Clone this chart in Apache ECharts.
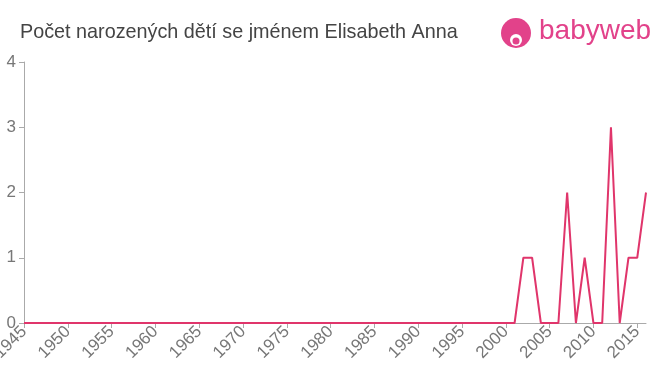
<!DOCTYPE html>
<html><head><meta charset="utf-8">
<script src="https://cdn.jsdelivr.net/npm/echarts@6/dist/echarts.min.js"></script>
<style>html,body{margin:0;padding:0;background:#fff}#c{width:660px;height:375px}</style>
</head><body><div id="c"></div>
<script>
const years = [];
for (let y = 1945; y <= 2016; y++) years.push(String(y));
const nonZero = {2002:1, 2003:1, 2007:2, 2009:1, 2012:3, 2014:1, 2015:1, 2016:2};
const counts = years.map(y => nonZero[y] || 0);
const yTicks = [0, 1, 2, 3, 4];

const chart = echarts.init(document.getElementById('c'));
chart.setOption({
  animation: false,
  title: {
    text: 'Počet narozených dětí se jménem Elisabeth Anna',
    left: 15, top: 18,
    textStyle: {fontFamily: 'Arial, Liberation Sans', fontSize: 19.8, fontWeight: 'normal', color: '#444'}
  },
  graphic: [
    {type: 'circle', shape: {cx: 516, cy: 33, r: 15}, style: {fill: '#e2428a'}},
    {type: 'circle', shape: {cx: 516, cy: 40, r: 6}, style: {fill: '#fff'}},
    {type: 'circle', shape: {cx: 516, cy: 41, r: 3.5}, style: {fill: '#e2428a'}},
    {type: 'text', left: 539, top: 17, style: {text: 'babyweb', fill: '#e2428a', font: '28px Arial, Liberation Sans'}}
  ],
  grid: {left: 24, right: 14, top: 62, bottom: 52, containLabel: false, outerBoundsMode: 'none'},
  xAxis: {
    type: 'category', data: years, boundaryGap: false,
    axisLine: {lineStyle: {color: '#aaa', width: 1}},
    axisTick: {alignWithLabel: true, interval: (i, v) => (+v) % 5 === 0, lineStyle: {color: '#aaa'}, length: 5},
    axisLabel: {interval: (i, v) => (+v) % 5 === 0, rotate: 45, color: '#777', fontSize: 17, fontFamily: 'Arial, Liberation Sans', margin: 6}
  },
  yAxis: {
    type: 'value', min: 0, max: 4, interval: 1,
    axisLine: {show: true, lineStyle: {color: '#aaa'}},
    axisTick: {show: true, length: 5, lineStyle: {color: '#aaa'}},
    splitLine: {show: false},
    axisLabel: {color: '#777', fontSize: 17, fontFamily: 'Arial, Liberation Sans', margin: 8,
      formatter: v => yTicks.includes(v) ? String(v) : ''}
  },
  series: [{
    type: 'line', data: counts, symbol: 'none',
    lineStyle: {color: '#e0356b', width: 2}
  }]
});
</script></body></html>
